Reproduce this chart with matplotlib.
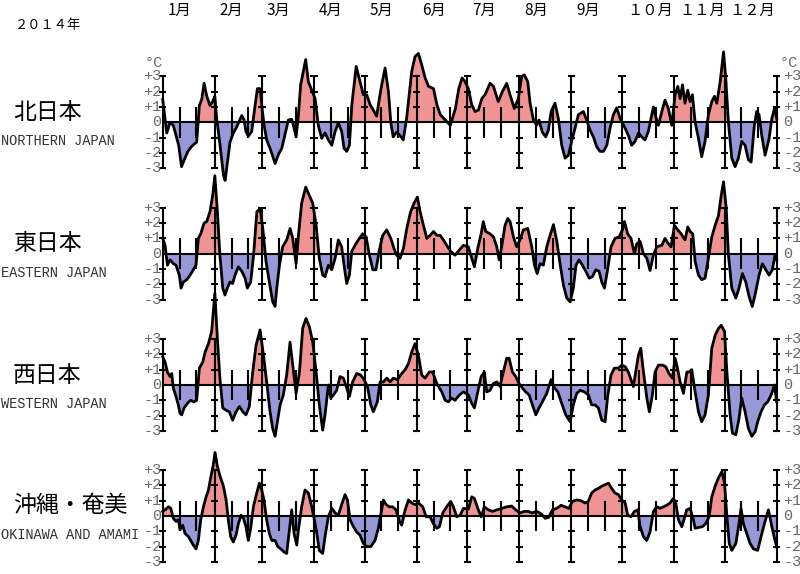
import numpy as np
import matplotlib
matplotlib.use('Agg')
import matplotlib.pyplot as plt
from matplotlib import transforms

plt.rcParams['font.family'] = ['Noto Sans CJK JP', 'DejaVu Sans']

# ---------------- data ----------------
year_label = '２０１４年'
month_labels = ['1月', '2月', '3月', '4月', '5月', '6月', '7月', '8月', '9月',
                '１０月', '１１月', '１２月']
month_days = [31, 28, 31, 30, 31, 30, 31, 31, 30, 31, 30, 31]
region_names = ['北日本', '東日本', '西日本', '沖縄・奄美']
region_names_en = ['NORTHERN JAPAN', 'EASTERN JAPAN', 'WESTERN JAPAN', 'OKINAWA AND AMAMI']
y_tick_values = [3, 2, 1, 0, -1, -2, -3]
y_tick_labels = ['+3', '+2', '+1', '0', '-1', '-2', '-3']
unit_label = '°C'

north_days = [0, 2.4, 4.4, 6.3, 9.5, 11.2, 13, 15, 17, 19, 20.2, 21.8, 23.2, 24.6, 26.2, 28.1, 29.7, 31,
              32.1, 34.1, 36.1, 37.1, 38.5, 40, 42, 44, 46, 47, 48.4, 49.5, 50.9, 52.9, 54.9, 56.3, 57.9,
              59.3, 60.3, 61.8, 63.8, 65.8, 66.8, 68.8, 70.8, 72.7, 74.7, 76.7, 77.7, 79.3, 80.7, 82.0,
              85, 86.6, 88.6, 90.6, 92.5, 94.5, 96.5, 98.5, 100.5, 102.5, 104.4, 106.4, 107.8, 109.4, 111,
              112.4, 115, 117.3, 119.3, 121.3, 123.3, 125.2, 127.2, 128.8, 130.2, 132.2, 134.2, 135.6, 137,
              139, 141, 143, 145, 148, 150, 152, 154, 156, 158, 161, 163, 165, 168, 171, 174, 176, 178,
              179.7, 181.7, 183.7, 185.7, 187.7, 189.7, 191.6, 194.6, 196.6, 199.5, 201.9, 204.5, 206.5,
              209, 211.4, 213.4, 215, 217, 218.4, 220.4, 222.3, 223.7, 225.7, 227.7, 229.3, 230.9, 233.2,
              235.2, 237.2, 239.2, 241.2, 243.1, 245.1, 247.1, 250.1, 252, 254, 256, 258, 260, 262, 264,
              265.9, 267.9, 269.9, 271.9, 274.5, 276.8, 278.8, 280.8, 282.8, 284.8, 286.7, 288.7, 290.3,
              291.7, 293.1, 294.7, 296.7, 298.6, 300.6, 302.6, 304.6, 306.2, 307.6, 309, 310.5, 312.1,
              313.5, 314.9, 316.5, 318.5, 320.4, 322.4, 324.4, 326.4, 328, 329.4, 331.4, 333.4, 334.7,
              336.3, 338.3, 340.3, 342.2, 344.2, 346.2, 348.2, 349.8, 351.7, 353.1, 354.5, 356.1, 358.1,
              360.5, 362.1, 363.7, 365]
north_vals = [1.5, -0.7, 0.0, -0.2, -1.5, -2.9, -2.4, -1.9, -1.6, -1.4, -1.3, 1.1, 1.5, 2.55, 1.7, 1.1, 1.35, 1.7,
              0.25, -1.5, -3.45, -3.8, -2.6, -1.3, -0.7, -0.3, 0.2, 0.45, 0.15, -0.6, -0.9, -0.6, 1.1, 2.2, 2.2,
              0.7, -0.2, -1.15, -1.7, -2.35, -2.7, -2.1, -1.7, -0.8, 0.15, 0.2, -0.2, -0.95, 0.5, 2.45,
              4.1, 2.65, 2.1, 1.55, -0.2, -1.05, -0.7, -1.15, -1.5, -0.6, -0.05, -0.6, -1.7, -1.9, -1.5,
              1.1, 3.65, 2.65, 1.8, 1.8, 1.15, 0.8, 0.4, 1.55, 2.45, 3.55, 2.0, 0.0, -0.95,
              -0.65, -0.85, -1.15, 0.25, 3.3, 4.3, 4.5, 3.75, 2.9, 2.35, 2.2, 1.15, 0.5, 0.15, -0.2, 0.9, 2.2, 2.9,
              2.65, 2.2, 1.15, 0.7, 0.8, 1.55, 1.8, 2.55, 2.35, 1.35, 2.0, 2.55, 1.8,
              0.9, 1.55, 3.0, 3.1, 2.65, 1.25, 0.15, -0.2, 0.15, -0.65, -0.95, -0.5, 0.7, 1.25,
              0.25, -1.5, -2.35, -2.15, -1.25, -0.4, 0.5, 0.7, 0.15, -0.5, -0.95, -1.6, -1.9, -1.9, -1.5,
              -0.4, 0.5, 0.95, 0.25, -0.3, -0.85, -1.5, -1.25, -0.7, -0.95, -1.15, -0.6, 0.25,
              1.0, 0.35, -0.2, 0.7, 1.45, 0.9, -0.2, 1.8, 2.35, 1.55, 2.45, 1.25, 2.1,
              1.35, 1.8, 0.0, -1.05, -2.25, -1.25, 0.5, 1.35, 1.7, 1.25, 2.65, 4.6, 2.9,
              0.0, -2.35, -2.9, -2.35, -1.25, -1.5, -2.45, -2.6, -0.2, 0.7, 0.5, -0.85, -2.15,
              -1.05, 0.25, 0.9, 0.25]

east_days = [0, 1.4, 2.8, 4.4, 6.3, 7.9, 9.9, 10.9, 12.3, 14.3, 16.3, 18.2, 19.8, 21.2, 22.6, 24.6, 26.2,
             28.1, 29.7, 31, 32.5, 34, 35.7, 37, 38.4, 40, 41.6, 43, 45, 47, 49, 50.3, 52.3, 54, 56, 57.9,
             59.5, 61.4, 63.4, 65.4, 66.8, 67.8, 69.4, 71.3, 73.7, 75.7, 77.3, 79.3, 80.7, 82.6, 85, 87.2,
             89.2, 91.2, 93.1, 95.1, 96.5, 98.5, 100.5, 102.5, 104.4, 106.4, 107.8, 109.4, 111, 112.4,
             114.3, 116.3, 118.9, 120.9, 122.9, 124.9, 126.8, 128.8, 130.8, 133.2, 135.6, 137.5, 139.1,
             141.1, 143.1, 145.1, 147.4, 149.4, 151.4, 153, 155, 157, 159, 161, 163, 164.9, 166.9, 168.8,
             171.2, 173.8, 176.4, 178.8, 181.7, 183.7, 185.3, 187.3, 189.3, 190.6, 192, 194.6, 196.6,
             198.6, 200, 201.5, 203.5, 205.1, 206.5, 208.5, 210.4, 212.4, 214.4, 217, 219.4, 221, 222.6,
             224.3, 226.3, 228.3, 230.3, 232.3, 234.3, 236.2, 238.2, 240.2, 242.2, 244.1, 245.7, 247.5,
             249.5, 251.5, 253.5, 255.5, 257.4, 259.4, 261, 262.6, 264.6, 266.5, 268.9, 271.3, 273.3,
             274.5, 276.4, 278.4, 280.4, 281.8, 283.8, 285.8, 287.8, 289.7, 291.7, 293.7, 296.7, 298.6,
             300.6, 302.2, 304.2, 306.2, 308.2, 310.5, 312.1, 313.5, 315.1, 316.5, 318.5, 320.4, 322.4,
             324.4, 326.4, 328.4, 330.4, 332, 333.4, 335, 336.3, 338.3, 340.7, 342.6, 344.6, 346.6, 348.6,
             350.5, 352.5, 354.5, 356.5, 358.5, 360.5, 362.4, 364, 365]
east_vals = [1.0, 0.55, -0.75, -0.4, -0.65, -0.75, -1.4, -2.25, -1.85, -1.7, -1.4, -1.05, -0.75, 1.0, 1.3, 2.0, 2.1,
             2.75, 3.8, 5.1, 2.75, -0.1, -2.25, -2.7, -2.25, -1.85, -1.95, -1.4, -0.85, -1.15, -1.6, -2.25, -1.85, -0.1, 2.75, 2.95,
             1.65, -0.5, -1.85, -3.15, -3.45, -2.25, -0.75, 0.45, 0.9, 1.65, 1.0, -0.65, 1.2, 3.3, 4.35, 3.8,
             3.3, 1.85, -0.3, -1.4, -1.5, -0.75, -1.05, -0.3, 0.9, 0.45, -0.75, -1.95, -1.4, 0.15,
             0.55, 0.9, 1.3, 1.1, -0.1, -1.05, -1.05, 0.25, 1.2, 1.55, 1.0, 0.35, -0.1,
             -0.3, 0.35, 1.65, 2.75, 3.3, 3.7, 2.75, 1.85, 1.0, 1.2, 1.45, 1.2, 1.2, 0.9, 0.55,
             0.15, -0.1, 0.25, 0.55, 0.45, -0.3, -0.85, 0.35, 1.3, 2.1, 1.45, 1.3, 1.1,
             0.45, -0.4, 0.45, 1.85, 2.3, 2.1, 1.1, 0.45, 0.9, 1.55, 1.65, 0.45, -0.75, -1.3,
             -0.65, -0.75, 0.45, 1.2, 1.9, 0.8, -0.65, -2.05, -2.9, -3.15, -2.25, -0.75, -0.4,
             -0.75, -1.15, -1.6, -1.5, -1.05, -1.15, -1.85, -2.25, -0.95, 0.45, 1.0, 1.1, 1.55,
             2.1, 1.3, 1.0, 0.0, 0.65, 0.8, 0.0, -0.3, -1.1, -0.1, 0.45, 0.55, 1.0,
             0.65, 0.45, 1.85, 1.55, 1.3, 0.9, 1.75, 1.45, 1.3, -0.5, -1.4, -1.7, -1.6,
             -0.3, 1.1, 1.85, 2.5, 3.8, 4.7, 2.95, -0.1, -2.25, -2.9, -2.25, -1.3, -1.85, -2.8,
             -3.45, -2.5, -1.4, -0.65, -1.05, -1.4, -1.05, -0.1, -0.4]

west_days = [0, 1.4, 2.8, 4.4, 5.4, 6.3, 7.9, 9.3, 10.3, 11.3, 12.7, 14.7, 16.6, 18.6, 20.2, 21.8, 23.8,
             25.2, 27.2, 29.1, 31, 32.5, 34, 35.7, 37.7, 39.6, 41.6, 43.6, 45.6, 47.6, 49.5, 51.5, 53.5,
             55.5, 57.9, 59.9, 61.8, 63.8, 65.4, 66.8, 68.2, 69.8, 71.7, 73.7, 75.7, 77.3, 79.3, 81.3,
             83.2, 85.2, 87.2, 89.2, 91.2, 93.1, 95.1, 96.5, 98.5, 99.9, 101.5, 103.4, 105.4, 107.4,
             109.4, 111, 112.9, 115.3, 117.7, 119.7, 121.7, 123.7, 125.2, 127.6, 129.2, 131.2, 133.2,
             135.2, 137.1, 139.5, 142.1, 144.1, 146.1, 148, 150, 152, 154, 156, 158.5, 160.5, 162.9,
             165.9, 167.9, 169.8, 171.8, 173.8, 176.4, 178.8, 181.7, 183.7, 185.3, 187.3, 189.3, 191.2,
             192.6, 194.6, 196.6, 198.6, 200.5, 202.5, 204.5, 205.9, 207.9, 209.9, 211.8, 213.8, 215.8,
             217.8, 219.8, 221.8, 223.7, 225.7, 228.3, 230.9, 232.9, 234.9, 237.2, 239.6, 242.2, 244.1,
             246.1, 248.1, 250.7, 253.1, 255, 257, 259, 261, 263, 264.5, 266.5, 268.5, 270.9, 272.9,
             274.9, 276.8, 278.4, 279.8, 281.2, 282.8, 284.2, 285.8, 287.8, 289.3, 291.1, 292.7, 294.7,
             297.1, 299, 301, 303, 304.6, 305.8, 307.6, 309.6, 311.6, 313, 314.5, 316.5, 318.5, 320.4,
             322.4, 324.4, 326.4, 328.4, 330.4, 332, 334, 335.4, 337.3, 338.7, 340.7, 342.6, 344.2,
             346.2, 348.2, 350.2, 352.2, 353.7, 355.7, 357.7, 359.7, 361.7, 363.7, 365]
west_vals = [1.85, 1.5, 0.85, 0.55, 0.75, -0.2, -0.75, -1.3, -1.85, -1.95, -1.5, -1.2, -1.0, -1.1, -1.0, 1.1, 1.5,
             2.15, 2.7, 3.5, 6.0, 3.05, 0.45, -1.5, -1.65, -1.75, -2.3, -1.75, -1.4, -1.75, -1.95, -1.4, 0.85,
             2.6, 3.6, 1.95, 0.2, -1.75, -2.85, -3.35, -2.4, -1.3, -0.65, 0.65, 2.8, 1.3, -0.55, 0.85,
             3.7, 4.35, 3.8, 2.8, 0.85, -1.3, -2.95, -1.95, 0.0, -0.85, -0.65, -0.35, 0.55, 0.45,
             -0.2, -0.75, 0.2, 0.75, 0.65, 0.35, -0.1, -1.3, -1.75, -1.1, 0.2, 0.2, 0.45,
             0.2, 0.45, 0.35, 0.75, 1.0, 1.4, 2.15, 2.7, 1.95, 0.65, 0.45, 0.85, 0.85, 0.1,
             -0.45, -1.0, -1.1, -0.85, -1.0, -0.65, -0.45, -0.65, -1.2, -1.5, -0.45, 0.55, 0.85,
             -0.45, -0.35, 0.1, 0.2, -0.1, 0.85, 1.75, 1.75, 0.85, 0.55, 0.1, -0.2, -0.45,
             -0.65, -1.3, -1.95, -1.5, -1.1, -0.55, 0.35, -0.2, -0.45, -1.2, -1.95, -2.4, -1.3,
             -0.55, -0.35, -0.45, -0.65, -1.3, -1.3, -1.5, -2.3, -2.4, -0.75, 0.65, 1.1, 1.1, 1.3,
             1.2, 0.85, 0.35, -0.1, 0.85, 1.95, 2.4, 0.85, -0.85, -1.75, -0.65, 0.85, 1.3,
             1.3, 1.2, 0.75, 0.45, 1.75, 1.2, 0.2, -0.55, 0.85, 0.85, 1.0, -0.45, -1.75, -2.4,
             -1.95, -0.65, 2.4, 3.25, 3.7, 3.9, 3.5, 0.85, -1.95, -3.15, -3.25, -2.2, -0.85,
             -1.75, -2.85, -3.35, -3.05, -2.4, -1.75, -1.3, -1.1, -0.65, 0.0, -1.1]

okinawa_days = [0, 1.4, 3.4, 4.8, 6.3, 7.9, 9.3, 10.3, 11.9, 13.3, 15.3, 16.6, 18.2, 19.8, 21.2, 22.6, 24.2,
                25.8, 27.2, 28.7, 30.1, 31.1, 32.5, 34.1, 36.1, 37.7, 39, 40.4, 42, 43.6, 45, 46.6, 48,
                49.5, 50.9, 52.3, 53.9, 55.9, 57.5, 58.9, 60.2, 61.8, 63.4, 64.8, 66.8, 68.4, 70.2, 72.1,
                73.7, 75.3, 76.7, 78.1, 79.7, 80.7, 82.6, 84.6, 86.6, 88.6, 90, 91.6, 93.1, 95.1, 96.5,
                98.5, 100.5, 102.5, 104.4, 106.4, 108.4, 109.8, 111.4, 113.4, 115.3, 117.3, 119.3, 121.3,
                123.7, 126.2, 128.2, 129.6, 131.2, 132.8, 134.8, 136.7, 138.7, 140.7, 142.1, 144.1, 146.1,
                148, 150, 152, 154.6, 156.6, 158.9, 160.9, 162.9, 164.5, 166.5, 168.8, 171.2, 172.8, 174.8,
                176.8, 178.8, 181.7, 183.7, 185.3, 187.3, 189.3, 191.2, 193.6, 196, 198.6, 201.5, 204.5,
                207.5, 209.9, 212.4, 215, 217.4, 219.4, 222.3, 224.9, 227.3, 229.3, 231.7, 234.2, 236.8,
                239.2, 241.5, 243.5, 246.1, 248.7, 251, 253, 255, 257, 259, 261, 263, 265, 266.9, 268.9,
                270.9, 272.9, 274.9, 276.4, 278.4, 280.4, 282.4, 283.8, 285.8, 287.7, 289.7, 291.7, 293.7,
                295.7, 297.6, 299.6, 301.6, 303.6, 305, 306.6, 308.6, 310.1, 311.5, 313.5, 315.5, 316.5,
                318.5, 320.8, 322.8, 324.8, 326.4, 328.4, 330.4, 332.4, 334, 335.4, 336.8, 338.3, 340.7,
                342.6, 343.8, 345.2, 347.2, 349.2, 351.2, 353.7, 355.7, 357.7, 360.1, 362.1, 364, 365]
okinawa_vals = [0.3, 0.4, 0.6, 0.5, -0.15, -0.35, -0.25, -0.9, -0.6, -1.15, -1.35, -1.6, -1.9, -2.15, -1.6, -0.25, 0.6,
                1.25, 1.7, 2.6, 3.35, 4.15, 3.25, 2.6, 1.95, 1.05, -0.25, -1.35, -1.7, -1.25, -0.5, 0.05, -0.15,
                -0.7, -1.6, -0.8, 0.6, 1.5, 2.15, 1.7, 1.05, -0.25, -1.15, -1.6, -1.6, -2.0, -2.15, -2.35,
                -2.45, -0.9, 0.4, -1.15, -1.9, -0.9, 0.6, 1.7, 1.5, 0.6, -0.15, -1.15, -2.25, -2.45, -1.35,
                -0.05, 0.5, 0.2, 0.05, 0.75, 1.4, 1.05, -0.25, -0.7, -1.05, -1.25, -1.8, -2.0,
                -2.0, -1.6, -0.8, 0.05, 1.05, 0.75, 0.6, 0.6, 0.4, -0.35, -0.6, 0.4, 1.05,
                0.85, 0.75, 0.85, 0.6, -0.05, -0.05, -0.5, -0.8, -0.7, 0.2, 0.6, 0.95, 0.6, -0.05,
                0.05, 0.5, 0.45, 1.25, 1.15, 0.5, -0.05, 0.6, 0.4, 0.3, 0.4, 0.5, 0.6,
                0.65, 0.4, 0.2, 0.3, 0.3, 0.2, 0.3, 0.15, -0.15, -0.1, 0.4, 0.5, 0.7,
                0.6, 0.5, 0.95, 1.05, 1.0, 0.85, 0.95, 1.5, 1.7, 1.8, 1.95, 2.05, 2.15, 1.8, 1.5,
                1.4, 1.05, 0.85, 0.05, -0.05, 0.3, 0.4, -0.7, -1.35, -1.6, -1.05, 0.3, 0.6,
                0.5, 0.6, 0.7, 0.85, 1.15, 0.85, -0.25, -0.7, -0.15, 0.4, 0.5, -0.25, -0.8,
                -0.75, -0.7, -0.5, -0.05, 1.25, 1.95, 2.5, 2.9, 2.15, -0.05, -1.8, -2.25, -1.8,
                -0.5, 0.5, -0.5, -1.15, -1.8, -2.15, -2.25, -1.35, -0.5, 0.4, -0.7, -1.6, -2.0]

series_days = [north_days, east_days, west_days, okinawa_days]
series_vals = [north_vals, east_vals, west_vals, okinawa_vals]

# ---------------- layout / style ----------------
W, H = 800, 574
X0, X1 = 162.7, 776.7          # pixel extent of the year
ZERO_Y = [122.3, 253.7, 385.0, 516.0]
PX_PER_DEG = 15.3
PANEL_H = 131.0
YHALF = PANEL_H / 2 / PX_PER_DEG
RED = '#f09393'
BLUE = '#9898d8'
LABEL_GRAY = '#6a6a6a'
MONO = ['Liberation Mono', 'DejaVu Sans Mono']

fig = plt.figure(figsize=(W / 100, H / 100), dpi=100)
fig.patch.set_facecolor('white')

month_starts = np.concatenate([[0], np.cumsum(month_days)])
dekads = np.concatenate([[s + 10, s + 20] for s in month_starts[:-1]])
ndays = month_starts[-1]
px_per_day = (X1 - X0) / ndays
bar_half = 3.6 / px_per_day

axes = []
for i in range(4):
    zy = ZERO_Y[i]
    ax = fig.add_axes([X0 / W, 1 - (zy + PANEL_H / 2) / H, (X1 - X0) / W, PANEL_H / H])
    ax.set_xlim(0, ndays)
    ax.set_ylim(-YHALF, YHALF)
    ax.axis('off')
    ax.patch.set_visible(False)
    axes.append(ax)

    d = np.asarray(series_days[i], dtype=float)
    v = np.asarray(series_vals[i], dtype=float)
    ax.fill_between(d, v, 0, where=v >= 0, interpolate=True, color=RED, lw=0, clip_on=False, zorder=1)
    ax.fill_between(d, v, 0, where=v <= 0, interpolate=True, color=BLUE, lw=0, clip_on=False, zorder=1)

    # month boundary lines with crossbars, dekad lines, zero line
    ax.vlines(month_starts, -3, 3, color='black', lw=1.5, clip_on=False, zorder=2)
    for yv in [-3, -2, -1, 1, 2, 3]:
        ax.hlines([yv] * len(month_starts), month_starts - bar_half, month_starts + bar_half,
                  color='black', lw=1.5, clip_on=False, zorder=2)
    ax.vlines(dekads, -1, 1, color='black', lw=1.5, clip_on=False, zorder=2)
    ax.hlines(0, 0, ndays, color='black', lw=1.5, clip_on=False, zorder=2)

    ax.plot(d, v, color='black', lw=2.0, clip_on=False, zorder=5, solid_joinstyle='round')

    # tick labels both sides
    for yv, lab in zip(y_tick_values, y_tick_labels):
        ax.text(-0.6, yv, lab, ha='right', va='center', fontsize=11, color=LABEL_GRAY,
                family=MONO, clip_on=False)
        ax.text(ndays + 3.8, yv, lab, ha='left', va='center', fontsize=11, color=LABEL_GRAY,
                family=MONO, clip_on=False)

    # region names
    fig.text(13 / W, 1 - (zy - 10) / H, region_names[i], ha='left', va='center', fontsize=16.5,
             color='black')
    fig.text(1 / W, 1 - (zy + 19) / H, region_names_en[i], ha='left', va='center', fontsize=9.8,
             color='#333333', family=MONO)

# unit labels on top panel
axes[0].text(0.3, 3.85, unit_label, ha='right', va='center', fontsize=11, color=LABEL_GRAY,
             family=MONO, clip_on=False)
axes[0].text(ndays + 1.5, 3.85, unit_label, ha='left', va='center', fontsize=11, color=LABEL_GRAY,
             family=MONO, clip_on=False)

# month labels across top
trans = transforms.blended_transform_factory(axes[0].transData, fig.transFigure)
for ms, lab in zip(month_starts[:-1], month_labels):
    axes[0].text(ms + 3.0, 1 - 10 / H, lab, transform=trans, ha='left', va='center',
                 fontsize=11, color='black', clip_on=False)

fig.text(15 / W, 1 - 25 / H, year_label, ha='left', va='center', fontsize=9.5, color='black')

fig.savefig('out.png', dpi=100, facecolor='white')
